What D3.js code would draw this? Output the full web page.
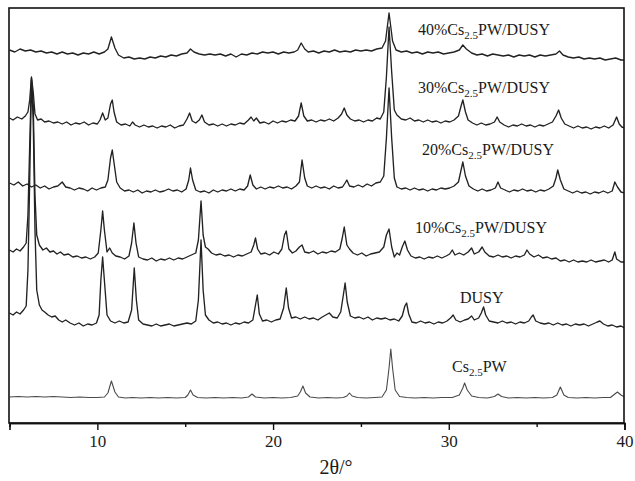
<!DOCTYPE html>
<html>
<head>
<meta charset="utf-8">
<script src="https://cdn.jsdelivr.net/npm/d3@7"></script>
<style>
html,body{margin:0;padding:0;background:#fff;}
svg{display:block;}
text{font-family:"Liberation Serif","Times New Roman",serif;fill:#1a1a1a;}
</style>
</head>
<body>
<svg id="chart" width="635" height="481"></svg>
<script>
// ---- data (2θ in degrees, intensity in arbitrary units relative to each pattern's baseline) ----
const seriesNames = ["Cs2.5PW", "DUSY", "10%Cs2.5PW/DUSY", "20%Cs2.5PW/DUSY", "30%Cs2.5PW/DUSY", "40%Cs2.5PW/DUSY"];
const seriesOffsets = [25, 103, 168, 235, 301, 370];
const xTicks = [10, 20, 30, 40];
const xMinorTicks = [15, 25, 35];
const xTitle = "2θ/°";

const cs25pw = [[5.0,1],[5.5,1.5],[6.0,1],[6.5,1.5],[7.0,1],[7.5,1.5],[8.0,1],[8.5,0.5],[9.0,1],[9.5,0.5],[10.0,0.5],[10.4,1],[10.6,5],[10.8,17],[11.0,6],[11.2,1],[11.6,0],[12.0,0.5],[12.5,0],[13.0,0.5],[13.5,0],[14.0,0.5],[14.5,0],[15.0,0.5],[15.15,3],[15.3,8],[15.45,3],[15.7,0.5],[16.2,0],[16.7,0.5],[17.2,0],[17.7,0.5],[18.2,0],[18.6,1],[18.8,4],[19.0,1],[19.5,0],[20.0,0.5],[20.5,0],[21.0,0.5],[21.4,2],[21.55,6],[21.7,12],[21.85,5],[22.1,1],[22.6,0],[23.1,0.5],[23.6,0],[24.0,0.5],[24.2,2],[24.35,5],[24.5,2],[24.8,0.5],[25.3,0],[25.8,0.5],[26.2,1],[26.45,8],[26.6,30],[26.7,49],[26.8,30],[26.95,8],[27.2,1.5],[27.6,0.5],[28.1,0],[28.6,0.5],[29.1,0],[29.6,0.5],[30.2,0.5],[30.6,3],[30.8,10],[30.9,15],[31.05,8],[31.3,2],[31.7,0.5],[32.2,0],[32.6,1.5],[32.8,4],[33.0,1.5],[33.4,0],[33.9,0.5],[34.4,0],[34.9,0.5],[35.4,0],[35.9,0.5],[36.15,3],[36.35,11],[36.55,3],[36.8,0.5],[37.3,0],[37.8,0.5],[38.3,0],[38.8,0.5],[39.2,0.5],[39.45,4],[39.6,6],[39.8,3],[40.0,1]];

const dusy = [[5.0,7],[5.2,5],[5.4,8],[5.6,6],[5.8,10],[5.95,14],[6.05,50],[6.15,140],[6.25,240],[6.35,200],[6.45,90],[6.55,30],[6.7,15],[6.85,10],[7.0,8],[7.2,5],[7.4,3],[7.6,4],[7.8,0],[8.0,-2],[8.2,0],[8.45,-3],[8.7,-5],[8.95,-3],[9.2,-6],[9.45,-4],[9.7,-5],[9.95,-3],[10.1,5],[10.2,40],[10.3,63],[10.42,35],[10.55,5],[10.75,-1],[11.0,-3],[11.25,-1],[11.5,-3],[11.75,-2],[11.95,10],[12.1,52],[12.22,20],[12.35,0],[12.6,-4],[12.85,-5],[13.1,-6],[13.35,-4],[13.6,-6],[13.85,-5],[14.1,-4],[14.35,-6],[14.6,-5],[14.85,-4],[15.1,-3],[15.35,-4],[15.6,-1],[15.75,20],[15.9,80],[16.02,30],[16.15,5],[16.35,0],[16.6,-3],[16.85,-2],[17.1,-4],[17.35,-3],[17.6,-5],[17.85,-3],[18.1,-4],[18.35,-2],[18.6,-3],[18.85,0],[19.0,15],[19.1,25],[19.22,6],[19.4,-1],[19.65,0],[19.9,-2],[20.15,0],[20.4,1],[20.6,12],[20.75,32],[20.88,12],[21.05,2],[21.3,3],[21.55,1],[21.8,3],[22.05,1],[22.3,2],[22.55,0],[22.8,3],[23.0,5],[23.2,7],[23.4,3],[23.65,2],[23.85,8],[24.0,25],[24.1,37],[24.22,18],[24.4,4],[24.65,2],[24.9,3],[25.15,1],[25.4,3],[25.65,0],[25.9,2],[26.15,1],[26.4,2],[26.65,0],[26.9,1],[27.15,-1],[27.35,4],[27.5,14],[27.6,17],[27.72,6],[27.9,-2],[28.15,-3],[28.4,-1],[28.65,-3],[28.9,-2],[29.15,-4],[29.4,-2],[29.65,-3],[29.9,-1],[30.1,2],[30.25,5],[30.4,0],[30.65,-2],[30.9,0],[31.1,1],[31.3,4],[31.45,0],[31.7,2],[31.85,7],[31.98,13],[32.1,5],[32.3,-1],[32.55,-2],[32.8,-3],[33.05,-1],[33.3,-3],[33.55,-2],[33.8,-4],[34.05,-2],[34.3,-3],[34.55,-1],[34.7,3],[34.8,5],[34.95,-1],[35.2,-3],[35.45,-4],[35.7,-3],[35.95,-5],[36.2,-3],[36.45,-5],[36.7,-4],[36.95,-6],[37.2,-4],[37.45,-5],[37.7,-4],[37.95,-6],[38.2,-4],[38.45,-2],[38.6,-1],[38.8,-4],[39.05,-6],[39.3,-5],[39.55,-7],[39.8,-6],[40.0,-8]];

const pct10 = [[5.0,5],[5.2,3],[5.4,6],[5.6,4],[5.8,8],[5.95,12],[6.05,40],[6.15,110],[6.25,177],[6.35,150],[6.45,60],[6.55,20],[6.7,10],[6.9,5],[7.1,7],[7.3,3],[7.5,4],[7.7,1],[7.9,3],[8.1,0],[8.35,1],[8.6,-2],[8.85,-1],[9.1,-3],[9.35,-2],[9.6,-4],[9.85,-2],[10.05,2],[10.2,25],[10.3,44],[10.4,25],[10.55,3],[10.7,7],[10.85,2],[11.05,-1],[11.3,-2],[11.55,-4],[11.8,-1],[11.95,12],[12.08,32],[12.2,12],[12.35,-2],[12.6,-4],[12.85,-5],[13.1,-3],[13.35,-6],[13.6,-4],[13.85,-5],[14.1,-3],[14.35,-5],[14.6,-3],[14.85,-4],[15.1,-2],[15.35,0],[15.6,2],[15.75,15],[15.9,54],[16.02,20],[16.15,8],[16.3,6],[16.5,2],[16.75,0],[17.0,1],[17.25,-1],[17.5,0],[17.75,-2],[18.0,0],[18.25,-1],[18.5,1],[18.75,3],[18.9,10],[19.0,17],[19.12,6],[19.3,1],[19.55,2],[19.8,0],[20.05,3],[20.3,1],[20.5,6],[20.65,20],[20.75,24],[20.9,6],[21.1,2],[21.3,4],[21.5,8],[21.65,10],[21.8,3],[22.05,2],[22.3,4],[22.55,1],[22.8,3],[23.05,2],[23.3,4],[23.55,3],[23.8,6],[23.95,18],[24.05,28],[24.2,10],[24.35,6],[24.55,2],[24.8,0],[25.05,2],[25.3,-1],[25.55,1],[25.8,2],[26.05,3],[26.3,8],[26.45,20],[26.6,26],[26.75,8],[26.9,-2],[27.05,2],[27.2,0],[27.35,8],[27.5,14],[27.65,5],[27.85,-1],[28.1,-3],[28.35,-2],[28.6,-4],[28.85,-2],[29.1,-3],[29.35,-1],[29.6,-3],[29.85,-1],[30.05,1],[30.2,5],[30.35,0],[30.6,2],[30.85,0],[31.1,3],[31.3,7],[31.45,1],[31.7,3],[31.9,8],[32.05,3],[32.3,-1],[32.55,-2],[32.8,0],[33.05,-2],[33.3,-1],[33.55,-3],[33.8,-1],[34.05,-2],[34.3,0],[34.45,5],[34.6,1],[34.85,-2],[35.1,0],[35.35,-3],[35.6,-2],[35.85,-4],[36.1,-3],[36.35,-6],[36.6,-5],[36.85,-7],[37.1,-5],[37.35,-7],[37.6,-6],[37.85,-7],[38.1,-5],[38.35,-7],[38.6,-6],[38.85,-5],[39.1,-7],[39.3,-5],[39.45,3],[39.55,-4],[39.8,-7],[40.0,-7]];

const pct20 = [[5.0,5],[5.25,3],[5.5,6],[5.75,2],[6.0,4],[6.25,1],[6.5,3],[6.75,0],[7.0,2],[7.25,-1],[7.5,1],[7.75,2],[8.0,6],[8.2,1],[8.45,0],[8.7,-2],[8.95,0],[9.2,-1],[9.45,-3],[9.7,0],[9.95,-2],[10.2,0],[10.45,1],[10.6,8],[10.75,30],[10.85,38],[10.95,25],[11.1,6],[11.3,0],[11.55,-3],[11.8,-2],[12.05,-4],[12.3,-2],[12.55,-5],[12.8,-3],[13.05,-4],[13.3,-2],[13.55,-4],[13.8,-3],[14.05,-1],[14.3,-3],[14.55,-2],[14.8,-4],[15.05,-1],[15.2,8],[15.3,20],[15.42,8],[15.6,-2],[15.85,-4],[16.1,-3],[16.35,-5],[16.6,-2],[16.85,-4],[17.1,-2],[17.35,-3],[17.6,-1],[17.85,-3],[18.1,-1],[18.35,-2],[18.55,2],[18.7,13],[18.85,3],[19.05,-1],[19.3,1],[19.55,-1],[19.8,1],[20.05,0],[20.3,2],[20.55,0],[20.8,1],[21.05,-1],[21.3,2],[21.5,6],[21.65,28],[21.8,10],[21.95,2],[22.2,0],[22.45,2],[22.7,0],[22.95,1],[23.2,-1],[23.45,2],[23.7,0],[23.95,1],[24.1,5],[24.2,8],[24.35,2],[24.6,1],[24.85,3],[25.1,1],[25.35,4],[25.6,2],[25.85,5],[26.1,6],[26.3,12],[26.45,50],[26.6,100],[26.75,50],[26.9,10],[27.05,1],[27.3,-1],[27.55,0],[27.8,-2],[28.05,0],[28.3,-2],[28.55,-1],[28.8,-3],[29.05,-1],[29.3,-2],[29.55,0],[29.8,-1],[30.05,0],[30.3,2],[30.55,6],[30.7,18],[30.8,26],[30.95,12],[31.15,2],[31.4,-1],[31.65,-3],[31.9,-1],[32.15,-3],[32.4,-2],[32.65,0],[32.8,6],[32.95,0],[33.2,-2],[33.45,-4],[33.7,-2],[33.95,-3],[34.2,-1],[34.45,-3],[34.7,-2],[34.95,-4],[35.2,-2],[35.45,-3],[35.7,-1],[35.95,2],[36.1,10],[36.2,18],[36.35,8],[36.55,-1],[36.8,-3],[37.05,-5],[37.3,-3],[37.55,-5],[37.8,-4],[38.05,-6],[38.3,-4],[38.55,-5],[38.8,-3],[39.05,-5],[39.3,-3],[39.45,6],[39.6,1],[39.8,-4],[40.0,-5]];

const pct30 = [[5.0,4],[5.2,2],[5.45,5],[5.7,3],[5.9,6],[6.05,10],[6.15,22],[6.25,45],[6.35,30],[6.45,8],[6.6,2],[6.8,3],[7.0,0],[7.25,1],[7.5,-1],[7.75,0],[8.0,-2],[8.25,0],[8.5,-3],[8.75,-1],[9.0,-2],[9.25,0],[9.5,-3],[9.75,-1],[10.0,-2],[10.15,2],[10.3,9],[10.45,2],[10.6,4],[10.75,18],[10.85,22],[10.95,10],[11.1,0],[11.35,-3],[11.6,-2],[11.85,-4],[12.0,0],[12.15,-3],[12.4,-5],[12.65,-3],[12.9,-5],[13.15,-4],[13.4,-6],[13.65,-4],[13.9,-5],[14.15,-3],[14.4,-6],[14.65,-4],[14.9,-3],[15.1,3],[15.25,9],[15.4,1],[15.6,-1],[15.8,2],[15.95,7],[16.1,0],[16.35,-3],[16.6,-2],[16.85,-4],[17.1,-2],[17.35,-4],[17.6,-2],[17.85,-3],[18.1,-1],[18.35,-2],[18.6,2],[18.75,5],[18.9,1],[19.05,4],[19.25,-1],[19.5,0],[19.75,-2],[20.0,1],[20.25,-1],[20.5,1],[20.75,0],[21.0,2],[21.25,1],[21.45,6],[21.6,19],[21.75,6],[21.95,1],[22.2,2],[22.45,0],[22.7,2],[22.95,1],[23.2,3],[23.45,1],[23.7,4],[23.9,8],[24.05,14],[24.2,7],[24.4,3],[24.65,1],[24.9,2],[25.15,0],[25.4,2],[25.65,1],[25.9,4],[26.1,3],[26.3,10],[26.45,45],[26.6,95],[26.75,50],[26.9,12],[27.05,7],[27.3,3],[27.55,2],[27.8,4],[28.05,1],[28.3,2],[28.55,0],[28.8,2],[29.05,0],[29.3,1],[29.55,-1],[29.8,1],[30.05,0],[30.3,2],[30.55,6],[30.7,16],[30.8,22],[30.95,10],[31.1,2],[31.35,-1],[31.6,-3],[31.85,-1],[32.1,-3],[32.35,-2],[32.6,0],[32.75,5],[32.9,0],[33.15,-3],[33.4,-5],[33.65,-3],[33.9,-4],[34.15,-2],[34.4,-4],[34.65,-3],[34.9,-5],[35.15,-3],[35.4,-4],[35.65,-2],[35.9,0],[36.1,6],[36.25,12],[36.4,4],[36.6,-2],[36.85,-4],[37.1,-6],[37.35,-4],[37.6,-6],[37.85,-5],[38.1,-7],[38.35,-5],[38.6,-6],[38.85,-4],[39.1,-6],[39.35,-3],[39.55,5],[39.7,-2],[39.85,-5],[40.0,-6]];

const pct40 = [[5.0,3],[5.3,1],[5.6,4],[5.9,2],[6.2,3],[6.5,1],[6.8,2],[7.1,0],[7.4,1],[7.7,-1],[8.0,1],[8.3,-1],[8.6,0],[8.9,-2],[9.2,0],[9.5,-1],[9.8,1],[10.1,-1],[10.4,1],[10.6,4],[10.8,16],[11.0,5],[11.2,-2],[11.5,-5],[11.8,-4],[12.1,-6],[12.4,-5],[12.7,-6],[13.0,-4],[13.3,-5],[13.6,-3],[13.9,-4],[14.2,-2],[14.5,-3],[14.8,-1],[15.1,0],[15.3,4],[15.5,1],[15.8,-1],[16.1,-2],[16.4,-1],[16.7,-2],[17.0,-1],[17.3,-3],[17.6,-1],[17.9,-4],[18.2,-1],[18.5,-2],[18.8,0],[19.1,-1],[19.4,1],[19.7,0],[20.0,1],[20.3,-1],[20.6,1],[20.9,0],[21.2,1],[21.4,3],[21.6,10],[21.8,4],[22.0,1],[22.3,2],[22.6,0],[22.9,2],[23.2,1],[23.5,3],[23.8,1],[24.1,2],[24.4,1],[24.7,3],[25.0,2],[25.3,3],[25.6,2],[25.9,4],[26.2,5],[26.4,12],[26.6,40],[26.8,12],[27.0,3],[27.3,1],[27.6,2],[27.9,0],[28.2,1],[28.5,-1],[28.8,1],[29.1,0],[29.4,1],[29.7,-1],[30.0,0],[30.3,1],[30.6,3],[30.8,8],[31.0,4],[31.3,0],[31.6,-2],[31.9,-1],[32.2,-3],[32.5,-1],[32.8,-2],[33.1,-3],[33.4,-2],[33.7,-4],[34.0,-2],[34.3,-3],[34.6,-2],[34.9,-4],[35.2,-2],[35.5,-3],[35.8,-2],[36.1,-1],[36.3,2],[36.5,-2],[36.8,-4],[37.1,-5],[37.4,-4],[37.7,-6],[38.0,-5],[38.3,-6],[38.6,-5],[38.9,-7],[39.2,-6],[39.5,-5],[39.8,-7],[40.0,-7]];

const seriesData = [cs25pw, dusy, pct10, pct20, pct30, pct40];

// ---- layout ----
const plot = {left: 9, top: 8, right: 624, bottom: 423};
const svg = d3.select("#chart");

const x = d3.scaleLinear().domain([5, 40]).range([plot.left + 0.5, plot.right + 0.5]);
const y = d3.scaleLinear().domain([0, 415]).range([plot.bottom, plot.top]);

const line = d3.line().x(d => x(d[0])).y(d => y(d[1]));

const g = svg.append("g");
g.append("defs").append("clipPath").attr("id", "clip")
  .append("rect").attr("x", plot.left).attr("y", plot.top)
  .attr("width", plot.right - plot.left).attr("height", plot.bottom - plot.top);

const lines = g.append("g").attr("clip-path", "url(#clip)");
seriesData.forEach((s, i) => {
  const off = seriesOffsets[i];
  lines.append("path")
    .datum(s.map(p => [p[0], p[1] + off]))
    .attr("d", line)
    .attr("fill", "none")
    .attr("stroke", i === 0 ? "#4a4a4a" : "#222")
    .attr("stroke-width", i === 0 ? 1.1 : 1.35)
    .attr("stroke-linejoin", "round");
});

// frame
g.append("rect")
  .attr("x", plot.left).attr("y", plot.top)
  .attr("width", plot.right - plot.left).attr("height", plot.bottom - plot.top)
  .attr("fill", "none").attr("stroke", "#111").attr("stroke-width", 1.6);

// axes
const axisMajor = d3.axisBottom(x).tickValues(xTicks).tickSize(7).tickPadding(5).tickFormat(d3.format("d"));
const axisMinor = d3.axisBottom(x).tickValues(xMinorTicks).tickSize(4).tickFormat("");
const ax = g.append("g").attr("transform", `translate(0,${plot.bottom})`).call(axisMajor);
const axm = g.append("g").attr("transform", `translate(0,${plot.bottom})`).call(axisMinor);
[ax, axm].forEach(a => {
  a.select(".domain").attr("stroke", "#111").attr("stroke-width", 1.6);
  a.selectAll(".tick line").attr("stroke", "#111").attr("stroke-width", 1.4);
});
ax.selectAll(".tick text")
  .attr("font-family", '"Liberation Serif","Times New Roman",serif')
  .attr("font-size", 17).attr("fill", "#1a1a1a");

g.append("text")
  .attr("x", 336).attr("y", 474)
  .attr("text-anchor", "middle")
  .attr("font-size", 20)
  .text(xTitle);

// series labels
const labelPos = [
  {x0: 452, yb: 372},
  {x0: 460, yb: 303},
  {x0: 415, yb: 233},
  {x0: 422, yb: 155},
  {x0: 418, yb: 93},
  {x0: 418, yb: 35}
];
seriesNames.forEach((name, i) => {
  const m = name.match(/^(.*?Cs)(2\.5)(.*)$/);
  const t = g.append("text").attr("x", labelPos[i].x0).attr("y", labelPos[i].yb).attr("font-size", 16);
  if (m) {
    t.append("tspan").text(m[1]);
    t.append("tspan").attr("font-size", 11).attr("dy", 4).text(m[2]);
    t.append("tspan").attr("dy", -4).text(m[3]);
  } else {
    t.text(name);
  }
});
</script>
</body>
</html>
